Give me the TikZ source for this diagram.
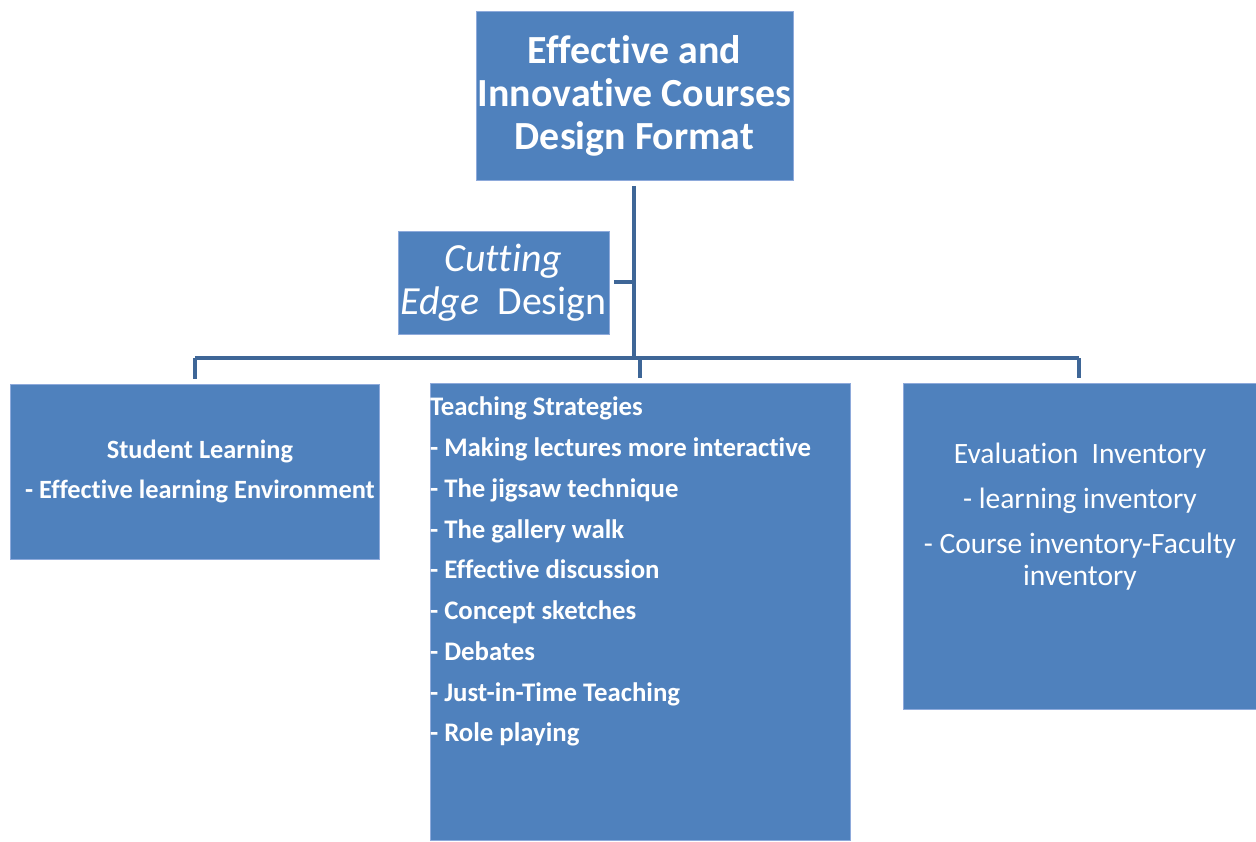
\documentclass[tikz,border=0pt]{standalone}
\usepackage{fontspec}
\setmainfont{Carlito}[RawFeature={-liga;-clig;-calt;-dlig}]
\usetikzlibrary{positioning,calc}
\definecolor{BoxBlue}{HTML}{4F81BD}
\definecolor{EdgeBlue}{HTML}{8EAADB}
\definecolor{LineBlue}{HTML}{3E6697}

\begin{document}
\begin{tikzpicture}[x=0.02cm,y=-0.02cm,
    box/.style={draw=EdgeBlue,line width=0.5pt,fill=BoxBlue,inner sep=0pt,outer sep=0pt,text=white},
    txt/.style={text=white,inner sep=0pt,outer sep=0pt},
    conn/.style={draw=LineBlue,line width=0.08cm}]
    \useasboundingbox (0,0) rectangle (1256,841);
    % boxes
    \node[box,anchor=north west,minimum width=6.34cm,minimum height=3.38cm,align=center,
          font=\fontsize{22.7}{24.5}\selectfont\bfseries] (top) at (476,11)
          {Effective and\\Innovative Courses\\Design Format};
    \node[box,anchor=north west,minimum width=4.22cm,minimum height=2.06cm,align=center,
          font=\fontsize{22.7}{24.5}\selectfont] (cut) at (398,231)
          {\textit{Cutting}\\\textit{Edge}\ \ Design};
    \node[box,anchor=north west,minimum width=7.4cm,minimum height=3.5cm,align=center,
          font=\fontsize{15}{23.3}\selectfont\bfseries] (sl) at (10,384)
          {\hspace*{0.2cm}Student Learning\\\hspace*{0.2cm}- Effective learning Environment};
    \node[box,anchor=north west,minimum width=8.42cm,minimum height=9.16cm] (ts) at (430,383) {};
    \node[box,anchor=north west,minimum width=7.06cm,minimum height=6.52cm] (ev) at (903,383) {};
    % texts
    \node[txt,anchor=north west,align=left,font=\fontsize{15.25}{23.2}\selectfont\bfseries] (ts-t) at (430,397)
          {Teaching Strategies\\- Making lectures more interactive\\- The jigsaw technique\\- The gallery walk\\- Effective discussion\\- Concept sketches\\- Debates\\- Just-in-Time Teaching\\- Role playing};
    \node[txt,align=center,font=\fontsize{16.8}{18.2}\selectfont] (ev-t) at (1080,517)
          {Evaluation\ \ Inventory\\[7.4pt]- learning inventory\\[7.4pt]- Course inventory-Faculty\\inventory};
    % connectors
    \coordinate (hub) at (top.south |- 0,358);
    \draw[conn,shorten <=0.12cm] (top.south) -- (hub);
    \draw[conn,shorten <=0.1cm] (cut.east) -- (cut.east -| hub);
    \draw[conn] (hub -| sl.north) -- (hub -| ev.north);
    \draw[conn,shorten >=0.1cm] (hub -| sl.north) -- (sl.north);
    \draw[conn,shorten >=0.1cm] (hub -| ts.north) -- (ts.north);
    \draw[conn,shorten >=0.1cm] (hub -| ev.north) -- (ev.north);
\end{tikzpicture}
\end{document}
